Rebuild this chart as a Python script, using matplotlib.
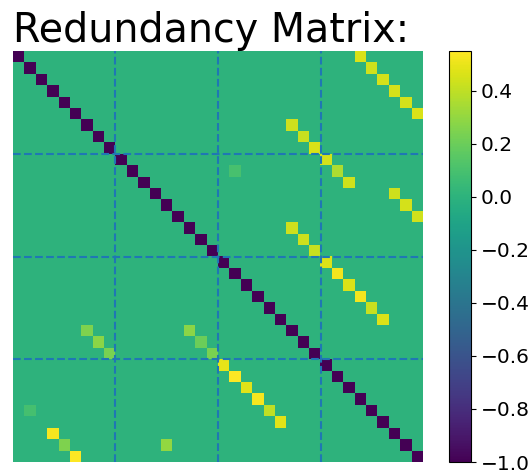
import numpy as np
import matplotlib
matplotlib.use("Agg")
import matplotlib.pyplot as plt

n_features = 36
block_size = 9

# Off-diagonal redundancy entries: (row, column, value)
rows = [0, 1, 2, 3, 4, 5,
        6, 7, 8,
        9, 10, 11,
        10,
        12, 13, 14,
        15, 16, 17,
        18, 19, 20, 21, 22, 23,
        24, 25, 26,
        24, 25, 26,
        27, 28, 29, 30, 31, 32,
        31,
        33, 34, 35,
        34]
cols = [30, 31, 32, 33, 34, 35,
        24, 25, 26,
        27, 28, 29,
        19,
        33, 34, 35,
        24, 25, 26,
        27, 28, 29, 30, 31, 32,
        6, 7, 8,
        15, 16, 17,
        18, 19, 20, 21, 22, 23,
        1,
        3, 4, 5,
        13]
values = [0.46, 0.44, 0.45, 0.45, 0.45, 0.46,
          0.43, 0.42, 0.46,
          0.45, 0.36, 0.44,
          0.10,
          0.43, 0.45, 0.44,
          0.43, 0.43, 0.42,
          0.47, 0.52, 0.47, 0.52, 0.42, 0.47,
          0.25, 0.28, 0.24,
          0.28, 0.20, 0.24,
          0.49, 0.55, 0.48, 0.53, 0.40, 0.48,
          0.09,
          0.53, 0.25, 0.55,
          0.30]
diagonal_value = -1.0

matrix = np.zeros((n_features, n_features))
np.fill_diagonal(matrix, diagonal_value)
for r, c, v in zip(rows, cols, values):
    matrix[r, c] = v

fig = plt.figure(figsize=(5.30, 4.73), dpi=100)
ax = fig.add_axes([13 / 530, 11 / 473, 410 / 530, 411 / 473])
cax = fig.add_axes([449 / 530, 11 / 473, 22 / 530, 411 / 473])

im = ax.imshow(matrix, cmap="viridis", vmin=-1.0, vmax=0.55,
               interpolation="nearest", aspect="auto")

for k in range(block_size, n_features, block_size):
    ax.axhline(k - 0.5, color="#1f77b4", linestyle="--", linewidth=1.5)
    ax.axvline(k - 0.5, color="#1f77b4", linestyle="--", linewidth=1.5)

ax.set_xticks([])
ax.set_yticks([])
for spine in ax.spines.values():
    spine.set_visible(False)

ax.set_title("Redundancy Matrix:", fontsize=28.5, loc="left")

cbar = fig.colorbar(im, cax=cax)
cbar.set_ticks([-1.0, -0.8, -0.6, -0.4, -0.2, 0.0, 0.2, 0.4])
cbar.ax.tick_params(labelsize=14.5)

fig.savefig("out.png", dpi=100)
